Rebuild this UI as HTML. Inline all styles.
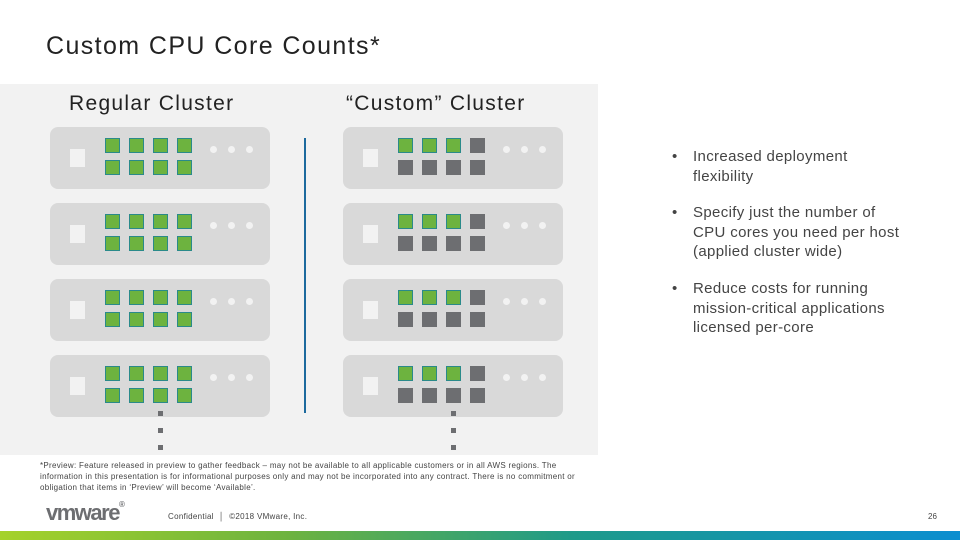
<!DOCTYPE html>
<html><head><meta charset="utf-8"><style>
body{margin:0;width:960px;height:540px;position:relative;background:#fff;font-family:"Liberation Sans",sans-serif;overflow:hidden}
.a{position:absolute}
.srv{position:absolute;width:220px;height:62px;background:#d9d9d9;border-radius:8px}
.sq{position:absolute;width:15px;height:15px}
.g{background:#6db33f;box-shadow:inset 0 0 0 1px #2a8a8a}
.k{background:#6d6e71}
.w{position:absolute;width:15px;height:18px;background:#f2f2f2}
.d{position:absolute;width:7px;height:7px;border-radius:50%;background:#f2f2f2}
.t{color:#444;font-size:15px;line-height:19.5px;letter-spacing:0.35px}
</style></head><body>
<div class="a" style="left:46px;top:32px;font-size:25px;color:#222;letter-spacing:1.4px">Custom CPU Core Counts*</div>
<div class="a" style="left:0;top:84px;width:598px;height:371px;background:#f2f2f2"></div>
<div class="a" style="left:69px;top:92px;font-size:21px;color:#222;letter-spacing:1.3px">Regular Cluster</div>
<div class="a" style="left:346px;top:92px;font-size:21px;color:#222;letter-spacing:1.3px">“Custom” Cluster</div>
<div class="a" style="left:304px;top:138px;width:2px;height:275px;background:#1d6a9e"></div>
<div id="c"></div>
<div class="a t" style="left:672px;top:147px">•</div><div class="a t" style="left:693px;top:147px">Increased deployment<br>flexibility</div>
<div class="a t" style="left:672px;top:203px">•</div><div class="a t" style="left:693px;top:203px">Specify just the number of<br>CPU cores you need per host<br>(applied cluster wide)</div>
<div class="a t" style="left:672px;top:279px">•</div><div class="a t" style="left:693px;top:279px">Reduce costs for running<br>mission-critical applications<br>licensed per-core</div>
<div class="a" style="left:40px;top:460px;font-size:8px;line-height:11px;color:#444;width:575px;letter-spacing:0.3px">*Preview: Feature released in preview to gather feedback – may not be available to all applicable customers or in all AWS regions. The<br>information in this presentation is for informational purposes only and may not be incorporated into any contract. There is no commitment or<br>obligation that items in ‘Preview’ will become ‘Available’.</div>
<div class="a" style="left:46px;top:500px;font-size:22px;font-weight:bold;color:#6d6e71;letter-spacing:-1.5px">vmware<span style="font-size:8px;vertical-align:top">®</span></div>
<div class="a" style="left:168px;top:512px;font-size:8px;color:#444;letter-spacing:0.3px">Confidential &nbsp;│&nbsp; ©2018 VMware, Inc.</div>
<div class="a" style="left:928px;top:512px;font-size:8px;color:#444">26</div>
<div class="a" style="left:0;top:531px;width:960px;height:9px;background:linear-gradient(90deg,#a5d22a,#6db33f 30%,#1d9a8a 60%,#0b8ed0)"></div>
<script>
var h='',ys=[127,203,279,355];
function srv(x,custom){ys.forEach(function(y){h+='<div class="srv" style="left:'+x+'px;top:'+y+'px"></div>';
h+='<div class="w" style="left:'+(x+20)+'px;top:'+(y+22)+'px"></div>';
for(var i=0;i<3;i++)h+='<div class="d" style="left:'+(x+160+i*18)+'px;top:'+(y+19)+'px"></div>';
for(var r=0;r<2;r++)for(var c=0;c<4;c++){var g=!custom||(r==0&&c<3);
h+='<div class="sq '+(g?'g':'k')+'" style="left:'+(x+55+c*24)+'px;top:'+(y+11+r*22)+'px"></div>';}});
for(var j=0;j<3;j++)h+='<div class="a" style="left:'+(x+108)+'px;top:'+(411+j*17)+'px;width:5px;height:5px;background:#6d6e71"></div>';}
srv(50,false);srv(343,true);
document.getElementById('c').innerHTML=h;
</script>
</body></html>
